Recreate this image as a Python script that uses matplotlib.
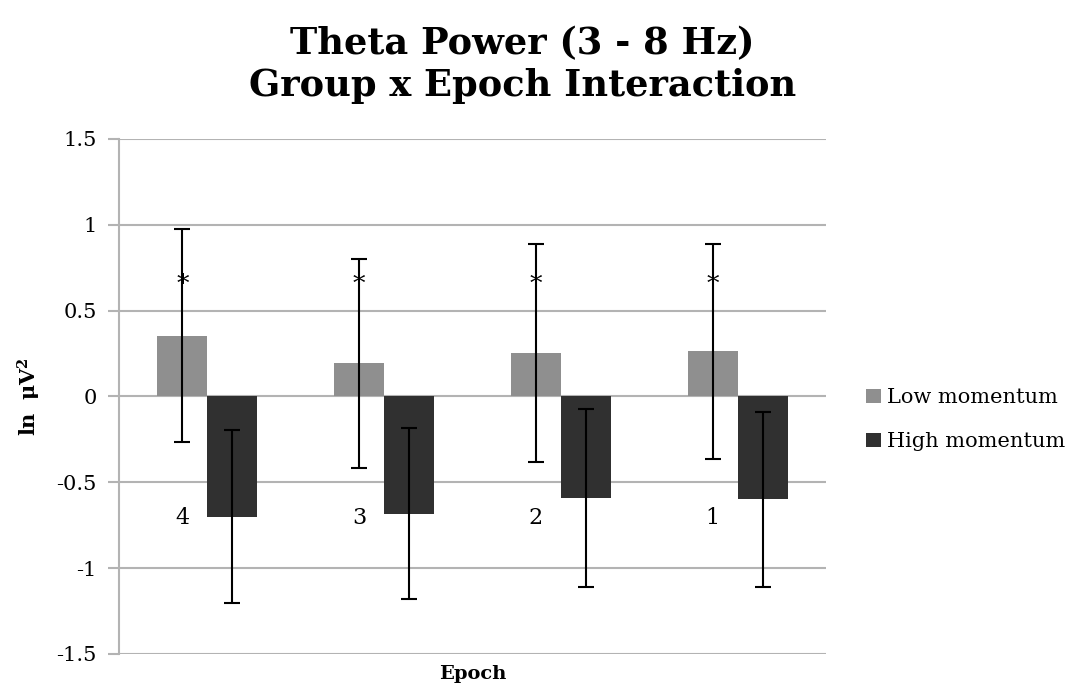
import matplotlib.pyplot as plt
import numpy as np

epochs = ['4', '3', '2', '1']
low = [0.355, 0.193, 0.254, 0.263]
low_err = [0.62, 0.61, 0.635, 0.625]
high = [-0.70, -0.682, -0.59, -0.60]
high_err = [0.505, 0.497, 0.518, 0.512]
star_y = [0.68, 0.68, 0.68, 0.68]

plt.rcParams['font.family'] = ['DejaVu Serif']
plt.rcParams['mathtext.fontset'] = 'dejavuserif'

fig = plt.figure(figsize=(10.77, 6.89), dpi=100)
ax = fig.add_axes([0.1105, 0.0508, 0.6565, 0.7475])

x = np.arange(len(epochs))
w = 0.283
ekw = dict(elinewidth=1.5, capsize=6, capthick=1.5, ecolor='black')
ax.bar(x - w / 2, low, w, yerr=low_err, color='#8f8f8f', label='Low momentum',
       error_kw=ekw, zorder=3)
ax.bar(x + w / 2, high, w, yerr=high_err, color='#303030', label='High momentum',
       error_kw=ekw, zorder=3)

for xi, s, lab in zip(x, star_y, epochs):
    ax.text(xi - w / 2, s - 0.03, '*', ha='center', va='center', fontsize=18, zorder=4)
    ax.text(xi - w / 2, -0.71, lab, ha='center', va='center', fontsize=16, zorder=4)

ax.set_xlim(-0.5, 3.5)
ax.set_ylim(-1.5, 1.5)
ax.set_yticks([-1.5, -1, -0.5, 0, 0.5, 1, 1.5])
ax.set_yticklabels(['-1.5', '-1', '-0.5', '0', '0.5', '1', '1.5'])
ax.set_xticks([])
ax.yaxis.grid(True, color='#b3b3b3', linewidth=1.5, zorder=0)
ax.set_axisbelow(True)
for s in ['top', 'right', 'bottom']:
    ax.spines[s].set_visible(False)
ax.spines['left'].set_color('#b3b3b3')
ax.spines['left'].set_linewidth(1.5)
ax.tick_params(axis='y', colors='#b3b3b3', length=8, width=1.5, labelsize=15,
               labelcolor='black', pad=8)

ax.set_ylabel(r'$\mathbf{ln\ \ \mu V^2}$', fontsize=15, labelpad=10)
ax.set_xlabel('Epoch', fontsize=14, fontweight='bold', labelpad=8)

fig.text(0.485, 0.906, 'Theta Power (3 - 8 Hz)\nGroup x Epoch Interaction',
         ha='center', va='center', fontsize=26.5, fontweight='bold', linespacing=1.2)

ax.legend(loc='center left', bbox_to_anchor=(1.03, 0.455), frameon=False,
          fontsize=15, handlelength=0.7, handleheight=0.7, handletextpad=0.3,
          labelspacing=1.2)

fig.savefig('out.png', dpi=100)
